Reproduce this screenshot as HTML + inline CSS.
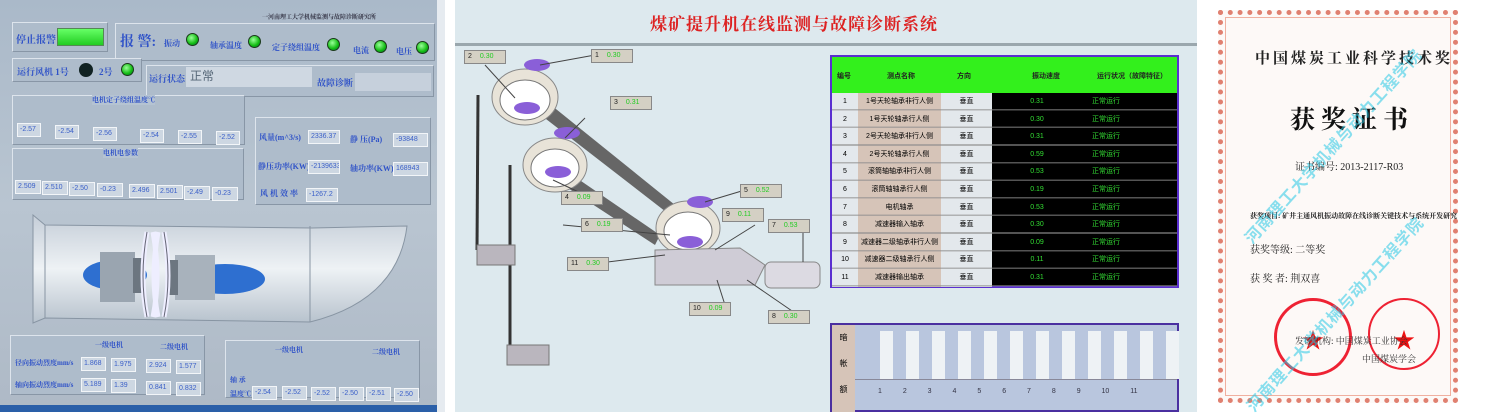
<!DOCTYPE html>
<html><head><meta charset="utf-8"><style>
*{margin:0;padding:0;box-sizing:border-box}
body{width:1491px;height:412px;position:relative;overflow:hidden;background:#fff;font-family:"Liberation Sans","Noto Sans CJK SC",sans-serif}
.a{position:absolute}
.L{color:#2f52c8;font-family:"Liberation Serif","Noto Serif CJK SC",serif;font-weight:bold;font-size:8px;white-space:nowrap}
.bx{position:absolute;background:#aebccb;border:1px solid #dde4ec;border-right-color:#8896a6;border-bottom-color:#8896a6}
.f{position:absolute;background:#cdd7e2;border:1px solid #f2f5f8;color:#3a5fc8;font-size:7px;padding-left:2px;line-height:12px;overflow:hidden;white-space:nowrap}
.led{position:absolute;width:13px;height:13px;border-radius:50%;background:radial-gradient(circle at 40% 35%,#9f9,#1b1 60%,#064);border:1px solid #1a3a1a}
.lb{position:absolute;background:#d4d0c4;border:1px solid #888;height:14px;font-size:7px;color:#222;line-height:12px;padding-left:3px}
.lb b{color:#2c2;font-weight:normal;margin-left:8px}
</style></head><body>
<!-- LEFT PANEL -->
<div class="a" style="left:0;top:0;width:443px;height:412px;background:linear-gradient(180deg,#aab9c9,#b9c5d1 50%,#aeb9c6)"></div>
<div class="a" style="left:437px;top:0;width:8px;height:412px;background:#e6ebf0"></div>
<div class="a L" style="left:262px;top:12px;font-size:6px;color:#334">一河南理工大学机械监测与故障诊断研究所</div>
<div class="bx" style="left:12px;top:22px;width:96px;height:30px"></div>
<div class="a L" style="left:16px;top:31px;font-size:10px">停止报警</div>
<div class="a" style="left:57px;top:28px;width:47px;height:18px;background:linear-gradient(#6f6,#2c2);border:1px solid #585"></div>
<div class="bx" style="left:115px;top:23px;width:320px;height:38px"></div>
<div class="a L" style="left:120px;top:31px;font-size:14px">报 警:</div>
<div class="a L" style="left:164px;top:38px">振动</div><div class="led" style="left:186px;top:33px"></div>
<div class="a L" style="left:210px;top:40px">轴承温度</div><div class="led" style="left:248px;top:35px"></div>
<div class="a L" style="left:272px;top:42px">定子绕组温度</div><div class="led" style="left:327px;top:38px"></div>
<div class="a L" style="left:353px;top:45px">电流</div><div class="led" style="left:374px;top:40px"></div>
<div class="a L" style="left:396px;top:46px">电压</div><div class="led" style="left:416px;top:41px"></div>
<div class="bx" style="left:12px;top:58px;width:130px;height:24px"></div>
<div class="a L" style="left:17px;top:65px;font-size:9px">运行风机 1号</div>
<div class="a" style="left:79px;top:63px;width:14px;height:14px;border-radius:50%;background:#122"></div>
<div class="a L" style="left:99px;top:65px;font-size:9px">2号</div><div class="led" style="left:121px;top:63px"></div>
<div class="bx" style="left:146px;top:65px;width:288px;height:32px"></div>
<div class="a L" style="left:149px;top:72px;font-size:9px">运行状态</div>
<div class="a" style="left:186px;top:67px;width:126px;height:20px;background:#cfd8e2;color:#567;font-size:12px;padding-left:4px">正常</div>
<div class="a L" style="left:317px;top:76px;font-size:9px">故障诊断</div>
<div class="a" style="left:355px;top:73px;width:76px;height:18px;background:#c6d0dc"></div>
<div class="bx" style="left:12px;top:95px;width:233px;height:50px"></div>
<div class="a L" style="left:92px;top:95px;font-size:7px;background:#b5c3d2">电机定子绕组温度℃</div>
<div class="f" style="left:17px;top:123px;width:24px">-2.57</div><div class="f" style="left:55px;top:125px;width:24px">-2.54</div><div class="f" style="left:93px;top:127px;width:24px">-2.56</div>
<div class="f" style="left:140px;top:129px;width:24px">-2.54</div><div class="f" style="left:178px;top:130px;width:24px">-2.55</div><div class="f" style="left:216px;top:131px;width:24px">-2.52</div>
<div class="bx" style="left:12px;top:148px;width:232px;height:52px"></div>
<div class="a L" style="left:103px;top:148px;font-size:7px;background:#b5c3d2">电机电参数</div>
<div class="f" style="left:15px;top:180px;width:26px">2.509</div><div class="f" style="left:42px;top:181px;width:26px">2.510</div><div class="f" style="left:69px;top:182px;width:26px">-2.50</div><div class="f" style="left:97px;top:183px;width:26px">-0.23</div>
<div class="f" style="left:129px;top:184px;width:26px">2.496</div><div class="f" style="left:157px;top:185px;width:26px">2.501</div><div class="f" style="left:184px;top:186px;width:26px">-2.49</div><div class="f" style="left:212px;top:187px;width:26px">-0.23</div>
<div class="bx" style="left:255px;top:117px;width:176px;height:88px"></div>
<div class="a L" style="left:259px;top:132px">风量(m^3/s)</div><div class="f" style="left:308px;top:130px;width:32px">2336.37</div>
<div class="a L" style="left:350px;top:134px">静 压(Pa)</div><div class="f" style="left:393px;top:133px;width:35px">-93848</div>
<div class="a L" style="left:258px;top:161px">静压功率(KW)</div><div class="f" style="left:308px;top:160px;width:32px">-2139633</div>
<div class="a L" style="left:350px;top:163px">轴功率(KW)</div><div class="f" style="left:393px;top:162px;width:35px">168943</div>
<div class="a L" style="left:260px;top:188px">风 机 效 率</div><div class="f" style="left:306px;top:188px;width:32px">-1267.2</div>
<svg class="a" style="left:0;top:0" width="443" height="412">
<defs><linearGradient id="dg" x1="0" y1="0" x2="0" y2="1"><stop offset="0" stop-color="#c5ced8"/><stop offset=".5" stop-color="#eef2f5"/><stop offset="1" stop-color="#b7c2cd"/></linearGradient></defs>
<path d="M33 215 L45 225 L312 228 L407 226 Q398 300 310 322 L45 318 L33 323 Z" fill="url(#dg)" stroke="#8895a3"/>
<line x1="45" y1="225" x2="45" y2="318" stroke="#8895a3"/><line x1="310" y1="226" x2="310" y2="322" stroke="#8895a3"/>
<ellipse cx="115" cy="275" rx="32" ry="15" fill="#2e6fd0"/><ellipse cx="225" cy="279" rx="40" ry="15" fill="#2e6fd0"/>
<rect x="100" y="252" width="35" height="50" fill="#9aa5b0"/><rect x="175" y="255" width="40" height="45" fill="#a8b2bc"/>
<rect x="133" y="258" width="12" height="35" fill="#6c7680"/><rect x="168" y="260" width="10" height="35" fill="#6c7680"/>
<path d="M147 232 q-8 45 0 85 M153 232 q8 45 0 85 M158 232 q-8 45 0 85 M164 232 q8 45 0 85" stroke="#eef" stroke-width="5" fill="none"/>
<path d="M147 232 q-8 45 0 85 M164 232 q8 45 0 85" stroke="#667" stroke-width="1" fill="none"/>
</svg>
<div class="bx" style="left:10px;top:335px;width:195px;height:60px"></div>
<div class="a L" style="left:95px;top:340px;font-size:7px">一级电机</div><div class="a L" style="left:160px;top:342px;font-size:7px">二级电机</div>
<div class="a L" style="left:15px;top:358px;font-size:7px">径向振动烈度mm/s</div><div class="a L" style="left:15px;top:380px;font-size:7px">轴向振动烈度mm/s</div>
<div class="f" style="left:81px;top:357px;width:25px">1.868</div><div class="f" style="left:111px;top:358px;width:25px">1.975</div><div class="f" style="left:146px;top:359px;width:25px">2.924</div><div class="f" style="left:176px;top:360px;width:25px">1.577</div>
<div class="f" style="left:81px;top:378px;width:25px">5.189</div><div class="f" style="left:111px;top:379px;width:25px">1.39</div><div class="f" style="left:146px;top:381px;width:25px">0.841</div><div class="f" style="left:176px;top:382px;width:25px">0.832</div>
<div class="bx" style="left:225px;top:340px;width:195px;height:58px"></div>
<div class="a L" style="left:275px;top:345px;font-size:7px">一级电机</div><div class="a L" style="left:372px;top:347px;font-size:7px">二级电机</div>
<div class="a L" style="left:230px;top:375px;font-size:7px">轴 承</div><div class="a L" style="left:230px;top:389px;font-size:7px">温度℃</div>
<div class="f" style="left:252px;top:386px;width:25px">-2.54</div><div class="f" style="left:282px;top:386px;width:25px">-2.52</div><div class="f" style="left:311px;top:387px;width:25px">-2.52</div><div class="f" style="left:339px;top:387px;width:25px">-2.50</div><div class="f" style="left:366px;top:387px;width:25px">-2.51</div><div class="f" style="left:394px;top:388px;width:25px">-2.50</div>
<div class="a" style="left:0;top:405px;width:437px;height:7px;background:#2a5fa8"></div>
<!-- MIDDLE PANEL -->
<div class="a" style="left:455px;top:0;width:742px;height:412px;background:#dde9ee"></div>
<div class="a" style="left:455px;top:43px;width:742px;height:3px;background:#9aa7ad"></div>
<div class="a" style="left:650px;top:10px;color:#d22;font-family:'Liberation Serif','Noto Serif CJK SC',serif;font-weight:bold;font-size:17px;letter-spacing:1px">煤矿提升机在线监测与故障诊断系统</div>
<svg class="a" style="left:455px;top:0" width="380" height="412">
<g stroke="#333" stroke-width="3"><line x1="23" y1="95" x2="22" y2="250"/><line x1="55" y1="165" x2="55" y2="350"/></g>
<polygon points="65,80 220,205 215,215 60,95" fill="#666"/>
<polygon points="88,155 205,235 200,245 85,170" fill="#666"/>
<g fill="#e8e3d8" stroke="#888"><ellipse cx="70" cy="97" rx="33" ry="28"/><ellipse cx="100" cy="165" rx="32" ry="27"/><ellipse cx="233" cy="228" rx="32" ry="27"/></g>
<g fill="#fff" stroke="#777"><ellipse cx="70" cy="100" rx="25" ry="20"/><ellipse cx="100" cy="168" rx="24" ry="19"/><ellipse cx="233" cy="231" rx="24" ry="19"/></g>
<g fill="#8a5fd8"><ellipse cx="82" cy="65" rx="13" ry="6"/><ellipse cx="72" cy="108" rx="13" ry="6"/><ellipse cx="112" cy="133" rx="13" ry="6"/><ellipse cx="103" cy="172" rx="13" ry="6"/><ellipse cx="245" cy="202" rx="13" ry="6"/><ellipse cx="235" cy="242" rx="13" ry="6"/></g>
<polygon points="200,250 285,248 310,265 300,285 200,285" fill="#cfccd6" stroke="#888"/>
<rect x="310" y="262" width="55" height="26" rx="6" fill="#dcdae2" stroke="#888"/>
<rect x="22" y="245" width="38" height="20" fill="#bab6be" stroke="#777"/><rect x="52" y="345" width="42" height="20" fill="#bab6be" stroke="#777"/>
<g stroke="#444" stroke-width="1"><line x1="30" y1="65" x2="60" y2="98"/><line x1="85" y1="65" x2="140" y2="55"/><line x1="130" y1="118" x2="110" y2="138"/><line x1="98" y1="180" x2="130" y2="195"/><line x1="108" y1="225" x2="215" y2="235"/><line x1="250" y1="202" x2="290" y2="190"/><line x1="300" y1="225" x2="260" y2="250"/><line x1="348" y1="228" x2="348" y2="262"/><line x1="120" y1="266" x2="210" y2="255"/><line x1="262" y1="280" x2="270" y2="305"/><line x1="292" y1="280" x2="340" y2="313"/></g>
</svg>
<div class="lb" style="left:464px;top:50px;width:42px">2<b>0.30</b></div>
<div class="lb" style="left:591px;top:49px;width:42px">1<b>0.30</b></div>
<div class="lb" style="left:610px;top:96px;width:42px">3<b>0.31</b></div>
<div class="lb" style="left:561px;top:191px;width:42px">4<b>0.09</b></div>
<div class="lb" style="left:740px;top:184px;width:42px">5<b>0.52</b></div>
<div class="lb" style="left:581px;top:218px;width:42px">6<b>0.19</b></div>
<div class="lb" style="left:722px;top:208px;width:42px">9<b>0.11</b></div>
<div class="lb" style="left:768px;top:219px;width:42px">7<b>0.53</b></div>
<div class="lb" style="left:567px;top:257px;width:42px">11<b>0.30</b></div>
<div class="lb" style="left:689px;top:302px;width:42px">10<b>0.09</b></div>
<div class="lb" style="left:768px;top:310px;width:42px">8<b>0.30</b></div>
<!-- table -->
<div class="a" style="left:830px;top:55px;width:349px;height:233px;border:2px solid #5a2fd0;background:#000"></div>
<div class="a" style="left:832px;top:57px;width:345px;height:36px;background:#33f01c;font-size:7px;color:#222;font-weight:bold">
<span class="a" style="left:5px;top:14px">编号</span><span class="a" style="left:55px;top:14px">测点名称</span><span class="a" style="left:125px;top:14px">方向</span><span class="a" style="left:200px;top:14px">振动速度</span><span class="a" style="left:265px;top:14px">运行状况（故障特征）</span></div>
<div class="a" style="left:832px;top:93px;width:26px;height:194px;background:#e3e8ec"></div>
<div class="a" style="left:858px;top:93px;width:83px;height:194px;background:#d6c4b8"></div>
<div class="a" style="left:941px;top:93px;width:51px;height:194px;background:#e3e8ec"></div>
<div class="a" style="left:832px;top:93px;width:345px;height:194px;background:repeating-linear-gradient(180deg,transparent 0 16px,rgba(140,140,140,.6) 16px 17.6px)"></div>
<div class="a" style="left:832px;top:93px;width:345px;font-size:7px;line-height:17.6px">
<div style="display:flex"><span style="width:26px;text-align:center">1</span><span style="width:83px;text-align:center">1号天轮轴承非行人侧</span><span style="width:51px;text-align:center">垂直</span><span style="width:90px;text-align:center;color:#3d3">0.31</span><span style="color:#3d3;margin-left:10px">正常运行</span></div>
<div style="display:flex"><span style="width:26px;text-align:center">2</span><span style="width:83px;text-align:center">1号天轮轴承行人侧</span><span style="width:51px;text-align:center">垂直</span><span style="width:90px;text-align:center;color:#3d3">0.30</span><span style="color:#3d3;margin-left:10px">正常运行</span></div>
<div style="display:flex"><span style="width:26px;text-align:center">3</span><span style="width:83px;text-align:center">2号天轮轴承非行人侧</span><span style="width:51px;text-align:center">垂直</span><span style="width:90px;text-align:center;color:#3d3">0.31</span><span style="color:#3d3;margin-left:10px">正常运行</span></div>
<div style="display:flex"><span style="width:26px;text-align:center">4</span><span style="width:83px;text-align:center">2号天轮轴承行人侧</span><span style="width:51px;text-align:center">垂直</span><span style="width:90px;text-align:center;color:#3d3">0.59</span><span style="color:#3d3;margin-left:10px">正常运行</span></div>
<div style="display:flex"><span style="width:26px;text-align:center">5</span><span style="width:83px;text-align:center">滚筒轴轴承非行人侧</span><span style="width:51px;text-align:center">垂直</span><span style="width:90px;text-align:center;color:#3d3">0.53</span><span style="color:#3d3;margin-left:10px">正常运行</span></div>
<div style="display:flex"><span style="width:26px;text-align:center">6</span><span style="width:83px;text-align:center">滚筒轴轴承行人侧</span><span style="width:51px;text-align:center">垂直</span><span style="width:90px;text-align:center;color:#3d3">0.19</span><span style="color:#3d3;margin-left:10px">正常运行</span></div>
<div style="display:flex"><span style="width:26px;text-align:center">7</span><span style="width:83px;text-align:center">电机轴承</span><span style="width:51px;text-align:center">垂直</span><span style="width:90px;text-align:center;color:#3d3">0.53</span><span style="color:#3d3;margin-left:10px">正常运行</span></div>
<div style="display:flex"><span style="width:26px;text-align:center">8</span><span style="width:83px;text-align:center">减速器输入轴承</span><span style="width:51px;text-align:center">垂直</span><span style="width:90px;text-align:center;color:#3d3">0.30</span><span style="color:#3d3;margin-left:10px">正常运行</span></div>
<div style="display:flex"><span style="width:26px;text-align:center">9</span><span style="width:83px;text-align:center">减速器二级轴承非行人侧</span><span style="width:51px;text-align:center">垂直</span><span style="width:90px;text-align:center;color:#3d3">0.09</span><span style="color:#3d3;margin-left:10px">正常运行</span></div>
<div style="display:flex"><span style="width:26px;text-align:center">10</span><span style="width:83px;text-align:center">减速器二级轴承行人侧</span><span style="width:51px;text-align:center">垂直</span><span style="width:90px;text-align:center;color:#3d3">0.11</span><span style="color:#3d3;margin-left:10px">正常运行</span></div>
<div style="display:flex"><span style="width:26px;text-align:center">11</span><span style="width:83px;text-align:center">减速器输出轴承</span><span style="width:51px;text-align:center">垂直</span><span style="width:90px;text-align:center;color:#3d3">0.31</span><span style="color:#3d3;margin-left:10px">正常运行</span></div>
</div>
<!-- bottom chart -->
<div class="a" style="left:830px;top:323px;width:349px;height:89px;border:2px solid #4a2fa0;background:#b9c6de"></div>
<div class="a" style="left:832px;top:325px;width:23px;height:87px;background:#d6c4b8;font-size:8px;text-align:center;line-height:26px">暗<br>帐<br>额</div>
<div class="a" style="left:855px;top:379px;width:322px;height:1px;background:#889"></div>
<div class="a" style="left:880px;top:331px;width:300px;height:48px;background:repeating-linear-gradient(90deg,#eef2f5 0 13px,transparent 13px 26px)"></div>
<div class="a" style="left:878px;top:388px;width:300px;font-size:7px;color:#334;word-spacing:19px">1 2 3 4 5 6 7 8 9 10 11</div>
<!-- CERTIFICATE -->
<div class="a" style="left:1218px;top:10px;width:240px;height:393px;background:#fdf9f7;border:5px dotted #e08070;outline:1px solid #f0b0a0;outline-offset:-8px"></div>
<div class="a" style="left:1255px;top:47px;font-family:'Liberation Serif','Noto Serif CJK SC',serif;font-weight:bold;font-size:15px;letter-spacing:3px;color:#222">中国煤炭工业科学技术奖</div>
<div class="a" style="left:1290px;top:100px;font-family:'Liberation Serif','Noto Serif CJK SC',serif;font-weight:bold;font-size:25px;letter-spacing:6px;color:#111">获奖证书</div>
<div class="a" style="left:1295px;top:158px;font-family:'Liberation Serif','Noto Serif CJK SC',serif;font-size:10px;color:#222">证书编号: 2013-2117-R03</div>
<div class="a" style="left:1250px;top:211px;font-family:'Liberation Serif','Noto Serif CJK SC',serif;font-size:7px;color:#222;font-weight:bold">获奖项目: 矿井主通风机振动故障在线诊断关键技术与系统开发研究</div>
<div class="a" style="left:1250px;top:241px;font-family:'Liberation Serif','Noto Serif CJK SC',serif;font-size:10px;color:#222">获奖等级: 二等奖</div>
<div class="a" style="left:1250px;top:270px;font-family:'Liberation Serif','Noto Serif CJK SC',serif;font-size:10px;color:#222">获 奖 者: 荆双喜</div>
<div class="a" style="left:1274px;top:298px;width:78px;height:78px;border-radius:50%;border:3px solid #e23"></div>
<div class="a" style="left:1368px;top:298px;width:72px;height:72px;border-radius:50%;border:2px solid #e23"></div>
<div class="a" style="left:1302px;top:323px;color:#e11;font-size:22px">★</div><div class="a" style="left:1393px;top:323px;color:#e11;font-size:22px">★</div>
<div class="a" style="left:1295px;top:334px;font-family:'Liberation Serif','Noto Serif CJK SC',serif;font-size:9px;color:#333">发证机构: 中国煤炭工业协会</div>
<div class="a" style="left:1362px;top:352px;font-family:'Liberation Serif','Noto Serif CJK SC',serif;font-size:9px;color:#333">中国煤炭学会</div>
<div class="a" style="left:1238px;top:232px;transform:rotate(-48deg);transform-origin:left top;white-space:nowrap;font-size:16px;font-weight:bold;color:rgba(40,200,230,.55);letter-spacing:1px">河南理工大学机械与动力工程学院</div>
<div class="a" style="left:1240px;top:400px;transform:rotate(-48deg);transform-origin:left top;white-space:nowrap;font-size:16px;font-weight:bold;color:rgba(40,200,230,.55);letter-spacing:1px">河南理工大学机械与动力工程学院</div>
</body></html>
